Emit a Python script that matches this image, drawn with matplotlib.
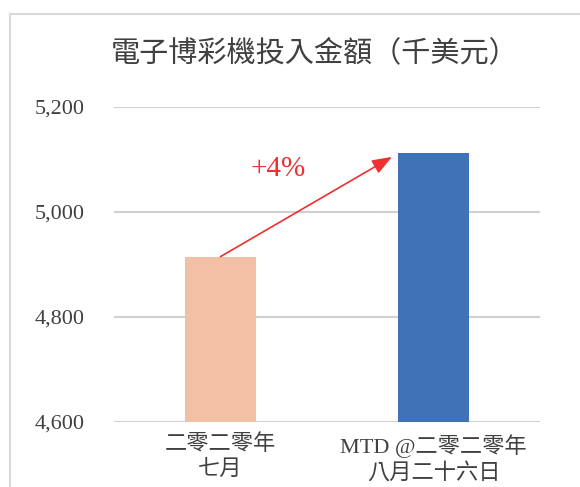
import matplotlib
matplotlib.use('Agg')
import matplotlib.pyplot as plt
from matplotlib.lines import Line2D

# ── Data ──────────────────────────────────────────────────────────────────────
categories = ['二零二零年\n七月', 'MTD @二零二零年\n八月二十六日']
values = [4915, 5113]
bar_colors = ['#f2c0a5', '#4072b8']
yticks = [4600, 4800, 5000, 5200]
title = '電子博彩機投入金額（千美元）'
change_label = '+4%'

FONT = ['Liberation Serif', 'Noto Sans CJK TC']
TEXT = '#404040'
GRID = '#d0d0d0'
RED = '#ee3030'

fig = plt.figure(figsize=(5.8, 4.87), dpi=100, facecolor='white')
ax = fig.add_axes([0.1966, 0.1335, 0.931 - 0.1966, 0.7803 - 0.1335])

x = list(range(len(categories)))
width = 0.33
ax.bar(x, values, width=width, color=bar_colors, zorder=3)

ax.set_xlim(-0.5, len(categories) - 0.5)
ax.set_ylim(yticks[0], yticks[-1])
ax.set_yticks(yticks)
ax.set_yticklabels([f'{v:,}' for v in yticks], family=FONT, fontsize=16, color=TEXT)
ax.set_xticks(x)
ax.set_xticklabels(categories, family=FONT, fontsize=16, color=TEXT, linespacing=1.3)
ax.tick_params(axis='y', length=0, pad=21)
ax.tick_params(axis='x', length=0, pad=9)

for v in yticks:
    ax.axhline(v, color=GRID, lw=1.5, zorder=1)
for s in ax.spines.values():
    s.set_visible(False)

# growth arrow from first bar top to next bar
ax.annotate('', xy=(x[1] - width / 2 - 0.03, values[1] - 8), xytext=(x[0], values[0]),
            arrowprops=dict(arrowstyle='-|>,head_width=0.45,head_length=1.2',
                            color=RED, lw=1.2, shrinkA=0, shrinkB=0),
            zorder=4)
ax.text(0.27, 5082, change_label, family=FONT, fontsize=21, color=RED,
        ha='center', va='center')

# title
fig.text(0.542, 1 - 53 / 487, title, family=FONT, fontsize=21, color=TEXT,
         ha='center', va='center')

# outer chart frame (cropped at right and bottom)
fig.add_artist(Line2D([10 / 580, 10 / 580], [0, 1 - 14 / 487],
                      transform=fig.transFigure, color='#d9d9d9', lw=1.5))
fig.add_artist(Line2D([10 / 580, 1], [1 - 14 / 487, 1 - 14 / 487],
                      transform=fig.transFigure, color='#d9d9d9', lw=1.5))

fig.savefig('out.png', dpi=100, facecolor='white')
plt.close(fig)
